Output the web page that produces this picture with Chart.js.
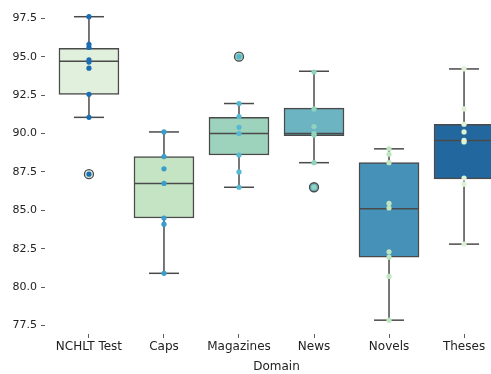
<!DOCTYPE html>
<html>
<head>
<meta charset="utf-8">
<script src="https://cdn.jsdelivr.net/npm/chart.js@4/dist/chart.umd.min.js"></script>
<style>
  html, body { margin: 0; padding: 0; background: #fff; overflow: hidden; }
  #wrap { position: absolute; left: 0; top: 0; width: 520px; height: 374px; }
</style>
</head>
<body>
<div id="wrap"><canvas id="chart" width="520" height="374"></canvas></div>
<script>
// Domain box plot with strip points on top (one box per domain).

const domains = ["NCHLT Test", "Caps", "Magazines", "News", "Novels", "Theses"];

// box stats
const whiskerLo = [91.05, 80.9, 86.5, 88.1, 77.85, 82.8];
const q1        = [92.55, 84.5, 88.6, 89.85, 81.95, 87.05];
const medians   = [94.7, 86.75, 90.0, 90.0, 85.1, 89.55];
const q3        = [95.55, 88.5, 91.05, 91.65, 88.1, 90.6];
const whiskerHi = [97.6, 90.1, 91.95, 94.05, 89.0, 94.2];
const fliers    = [[87.35], [], [95.0], [86.5], [], []];

// individual scores per domain
const nchltScores    = [97.6, 95.8, 95.6, 94.8, 94.65, 94.25, 92.55, 91.05, 87.35];
const capsScores     = [90.1, 88.5, 87.7, 86.75, 84.5, 84.1, 80.9];
const magazineScores = [95.0, 91.95, 91.1, 90.4, 90.0, 88.6, 87.5, 86.5];
const newsScores     = [94.0, 91.6, 90.45, 90.0, 89.9, 88.1, 86.5];
const novelScores    = [89.0, 88.65, 88.1, 85.45, 85.15, 82.3, 81.95, 80.7, 77.85];
const thesesScores   = [94.2, 91.6, 90.6, 90.1, 89.55, 89.45, 87.1, 86.7, 82.8];
const scoresByDomain = [nchltScores, capsScores, magazineScores, newsScores, novelScores, thesesScores];

const yTicks = [77.5, 80.0, 82.5, 85.0, 87.5, 90.0, 92.5, 95.0, 97.5];

const boxColors   = ["#e0f0dc", "#c5e4c3", "#9dd2bc", "#6cb4c2", "#4591b8", "#22689f"];
const pointColors = ["#1a6db0", "#3a9dcb", "#56b8d3", "#90d4bd", "#bfe6c0", "#def2d8"];
const EDGE = "#4a4a4a";
const FAMILY = "'DejaVu Sans', sans-serif";

// whiskers, caps and medians, drawn right after the boxes
const boxLines = {
  id: "boxLines",
  afterDatasetDraw(chart, args) {
    if (args.meta.index !== 0) return;
    const ctx = chart.ctx, xs = chart.scales.x, ys = chart.scales.y;
    const unit = xs.getPixelForValue(1) - xs.getPixelForValue(0);
    const boxHalf = unit * 0.4, capHalf = unit * 0.2;
    ctx.save();
    ctx.strokeStyle = EDGE;
    ctx.lineWidth = 1.5;
    domains.forEach((d, i) => {
      const cx = xs.getPixelForValue(i);
      const seg = (x1, y1, x2, y2) => { ctx.beginPath(); ctx.moveTo(x1, y1); ctx.lineTo(x2, y2); ctx.stroke(); };
      seg(cx, ys.getPixelForValue(whiskerLo[i]), cx, ys.getPixelForValue(q1[i]));
      seg(cx, ys.getPixelForValue(q3[i]), cx, ys.getPixelForValue(whiskerHi[i]));
      seg(cx - capHalf, ys.getPixelForValue(whiskerLo[i]), cx + capHalf, ys.getPixelForValue(whiskerLo[i]));
      seg(cx - capHalf, ys.getPixelForValue(whiskerHi[i]), cx + capHalf, ys.getPixelForValue(whiskerHi[i]));
      seg(cx - boxHalf, ys.getPixelForValue(medians[i]), cx + boxHalf, ys.getPixelForValue(medians[i]));
    });
    ctx.restore();
  }
};

const flierPoints = [], flierFill = [];
fliers.forEach((list, i) => list.forEach(v => { flierPoints.push({ x: i, y: v }); flierFill.push(boxColors[i]); }));

const stripPoints = [], stripFill = [];
scoresByDomain.forEach((list, i) => list.forEach(v => { stripPoints.push({ x: i, y: v }); stripFill.push(pointColors[i]); }));

new Chart(document.getElementById("chart").getContext("2d"), {
  type: "bar",
  data: {
    datasets: [
      {
        type: "bar",
        data: domains.map((d, i) => ({ x: i, y: [q1[i], q3[i]] })),
        backgroundColor: boxColors,
        borderColor: EDGE,
        borderWidth: 1.5,
        borderSkipped: false,
        barThickness: 60,
        order: 3
      },
      {
        type: "scatter",
        data: flierPoints,
        pointRadius: 4.5,
        pointBackgroundColor: flierFill,
        pointBorderColor: EDGE,
        pointBorderWidth: 1.3,
        order: 2
      },
      {
        type: "scatter",
        data: stripPoints,
        pointRadius: 2.6,
        pointBackgroundColor: stripFill,
        pointBorderWidth: 0,
        order: 1
      }
    ]
  },
  options: {
    responsive: false,
    animation: false,
    devicePixelRatio: 1,
    layout: { padding: { top: 0, right: 12, bottom: 0, left: 0 } },
    scales: {
      x: {
        type: "linear",
        offset: false,
        min: -0.586,
        max: 5.586,
        afterBuildTicks: s => { s.ticks = domains.map((d, i) => ({ value: i })); },
        afterFit: s => { s.height = 40; s.paddingLeft = 0; s.paddingRight = 0; },
        ticks: { callback: v => domains[v], font: { family: FAMILY, size: 12 }, color: "#222", padding: 2, maxRotation: 0, autoSkip: false },
        grid: { offset: false, drawOnChartArea: false, drawTicks: true, tickLength: 4, color: "#333", lineWidth: 0.8 },
        border: { display: false },
        title: { display: true, text: "Domain", font: { family: FAMILY, size: 12 }, color: "#222", padding: { top: 0, bottom: 0 } }
      },
      y: {
        min: 76.95,
        max: 98.31,
        afterBuildTicks: s => { s.ticks = yTicks.map(v => ({ value: v })); },
        afterFit: s => { s.width = 45; s.paddingTop = 0; s.paddingBottom = 0; },
        ticks: { callback: v => v.toFixed(1), font: { family: FAMILY, size: 11 }, color: "#222", padding: 4 },
        grid: { drawOnChartArea: false, drawTicks: true, tickLength: 4, color: "#333", lineWidth: 0.8 },
        border: { display: false }
      }
    },
    plugins: {
      legend: { display: false },
      tooltip: { enabled: false }
    }
  },
  plugins: [boxLines]
});
</script>
</body>
</html>
